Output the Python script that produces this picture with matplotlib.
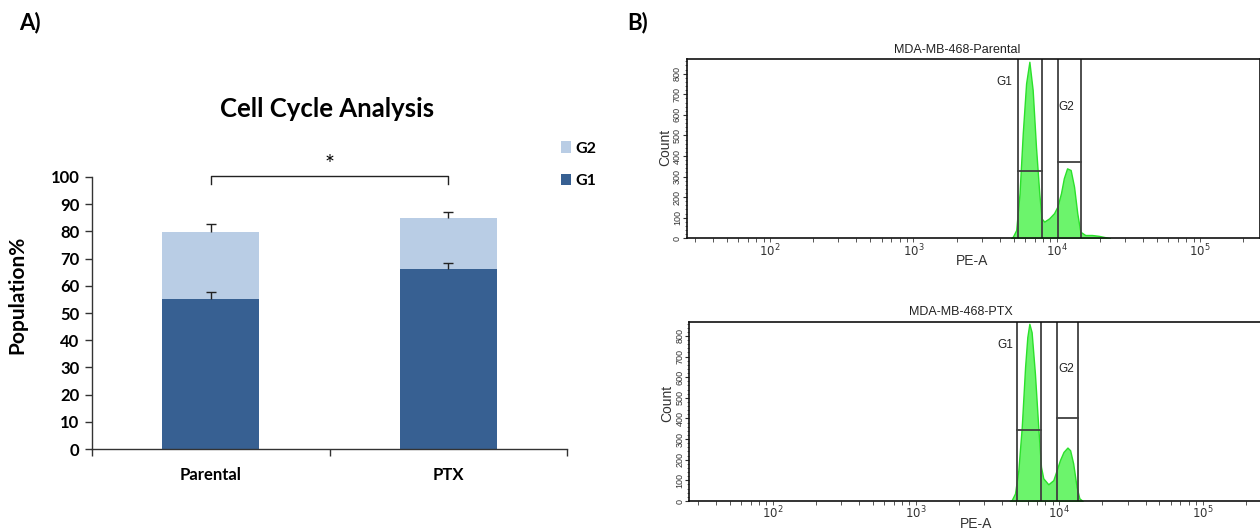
import numpy as np
import matplotlib
matplotlib.use('Agg')
import matplotlib.pyplot as plt
from matplotlib.ticker import MultipleLocator, NullFormatter, LogLocator, LogFormatterMathtext

# ---------------- Panel A data ----------------
groups = ['Parental', 'PTX']
g1_vals = [55.3, 66.3]
g2_vals = [24.5, 18.5]
g1_err = [2.4, 1.9]
total_err = [3.1, 2.4]
yticks_a = list(range(0, 101, 10))

# ---------------- Panel B data ----------------
parental_pe = [4790, 4940, 5210, 5500, 5790, 6110, 6440, 6790, 7160, 7550, 7830, 8170,
               8850, 9570, 10100, 10700, 11200, 11800, 12500, 13200, 13900, 14600,
               15800, 17600, 19600, 22300, 23500]
parental_count = [0, 8, 40, 219, 510, 753, 858, 721, 445, 219, 97, 81,
                  97, 122, 154, 219, 292, 340, 332, 251, 122, 32,
                  16, 16, 12, 4, 0]
ptx_pe = [4520, 4660, 4910, 5180, 5470, 5770, 5980, 6180, 6410, 6760, 7130, 7450,
          7730, 8380, 9080, 9590, 10100, 10700, 11400, 11900, 12500, 13200, 13800, 14550]
ptx_count = [0, 5, 37, 150, 359, 649, 794, 859, 818, 617, 359, 166,
             110, 81, 101, 150, 198, 238, 259, 246, 182, 69, 13, 0]

parental_g1_gate = [5350, 7850]
parental_g1_level = 327
parental_g2_gate = [10160, 14790]
parental_g2_level = 372
ptx_g1_gate = [5090, 7450]
ptx_g1_level = 343
ptx_g2_gate = [9640, 13580]
ptx_g2_level = 404

W, H = 1260, 531
fig = plt.figure(figsize=(W / 100, H / 100), dpi=100)

dark = '#376092'
light = '#B9CDE5'
fa = 'Lato'

# ---------------- Panel A ----------------
axA = fig.add_axes([92 / W, (H - 449) / H, 475 / W, 272 / H])
x = np.arange(len(groups))
b1 = axA.bar(x, g1_vals, width=0.41, color=dark, zorder=2)
b2 = axA.bar(x, g2_vals, bottom=g1_vals, width=0.41, color=light, zorder=2)
tot = [a + b for a, b in zip(g1_vals, g2_vals)]
for tops, errs in ((g1_vals, g1_err), (tot, total_err)):
    eb = axA.errorbar(x, tops, yerr=[np.zeros(len(x)), errs], fmt='none', ecolor='#222222',
                      elinewidth=1.0, capsize=3.5, capthick=1.0, zorder=3)
    eb[1][0].set_visible(False)  # hide lower caps
axA.set_xlim(-0.5, 1.5)
axA.set_ylim(0, 100)
for s in ['top', 'right']:
    axA.spines[s].set_visible(False)
for s in ['left', 'bottom']:
    axA.spines[s].set_color('#333333')
    axA.spines[s].set_linewidth(1.0)
axA.set_yticks(yticks_a)
axA.set_yticklabels([str(v) for v in yticks_a], fontfamily=fa, fontweight='bold', fontsize=12)
axA.tick_params(axis='y', direction='out', length=5, width=1, color='#333333', pad=4)
axA.set_xticks([-0.5, 0.5, 1.5])
axA.set_xticklabels(['', '', ''])
axA.tick_params(axis='x', which='major', direction='out', length=5, width=1, color='#333333')
axA.set_xticks(x, minor=True)
axA.set_xticklabels(groups, minor=True, fontfamily=fa, fontweight='bold', fontsize=12)
axA.tick_params(axis='x', which='minor', length=0, pad=13)

# significance bracket
axA.plot([0, 0, 1, 1], [97.5, 100.3, 100.3, 97.5], color='#222222', lw=1.0, clip_on=False)
axA.text(0.5, 104.5, '*', ha='center', va='center', fontsize=17, fontfamily=fa, clip_on=False)

fig.text(327 / W, 1 - 109 / H, 'Cell Cycle Analysis', ha='center', va='center',
         fontfamily=fa, fontweight='bold', fontsize=18.5)
fig.text(17 / W, 1 - 295 / H, 'Population%', rotation=90, ha='center', va='center',
         fontfamily=fa, fontweight='bold', fontsize=15)

leg = fig.legend([b2, b1], ['G2', 'G1'], loc='center left',
                 bbox_to_anchor=(560.7 / W, 1 - 164.7 / H), frameon=False,
                 prop={'family': fa, 'weight': 'bold', 'size': 11.5},
                 handlelength=0.62, handleheight=0.7, handletextpad=0.3,
                 labelspacing=1.15, borderpad=0, borderaxespad=0)

fig.text(30 / W, 1 - 23 / H, 'A)', ha='center', va='center', fontfamily=fa,
         fontweight='bold', fontsize=16)
fig.text(638 / W, 1 - 23 / H, 'B)', ha='center', va='center', fontfamily=fa,
         fontweight='bold', fontsize=16)

# ---------------- Panel B ----------------
fb = 'Liberation Sans'
plt.rcParams['mathtext.fontset'] = 'custom'
plt.rcParams['mathtext.rm'] = fb


def hist_panel(rect, pe, count, g1_gate, g1_level, g2_gate, g2_level, title, title_x,
               count_pos, pea_pos, g1_lab, g2_lab):
    ax = fig.add_axes(rect)
    ax.set_xscale('log')
    ax.set_xlim(10 ** 1.418, 10 ** 5.418)
    ax.set_ylim(0, 870)
    ax.fill_between(pe, 0, count, facecolor='#6CF46C', edgecolor='#2BE02B', lw=1.0, zorder=1)
    gate_kw = dict(color='#404040', lw=1.3, zorder=2)
    for g in (g1_gate, g2_gate):
        ax.axvline(g[0], **gate_kw)
        ax.axvline(g[1], **gate_kw)
    ax.plot(g1_gate, [g1_level, g1_level], **gate_kw)
    ax.plot(g2_gate, [g2_level, g2_level], **gate_kw)
    ax.text(g1_lab[0], g1_lab[1], 'G1', ha='center', va='center', fontsize=8.5,
            fontfamily=fb, color='#222222')
    ax.text(g2_lab[0], g2_lab[1], 'G2', ha='center', va='center', fontsize=8.5,
            fontfamily=fb, color='#222222')
    for s in ax.spines.values():
        s.set_color('#111111')
        s.set_linewidth(1.2)
    ax.yaxis.set_major_locator(MultipleLocator(100))
    ax.yaxis.set_minor_locator(MultipleLocator(20))
    ax.tick_params(axis='y', which='major', direction='out', length=3, width=0.8,
                   labelsize=6.5, pad=0.5, colors='#333333')
    ax.tick_params(axis='y', which='minor', direction='out', length=1.5, width=0.6,
                   color='#555555')
    for lab in ax.get_yticklabels():
        lab.set_rotation(90)
        lab.set_va('center')
        lab.set_fontfamily(fb)
    ax.xaxis.set_major_locator(LogLocator(base=10, numticks=10))
    ax.xaxis.set_major_formatter(LogFormatterMathtext())
    ax.xaxis.set_minor_locator(LogLocator(base=10, subs=np.arange(2, 10), numticks=20))
    ax.xaxis.set_minor_formatter(NullFormatter())
    ax.tick_params(axis='x', which='both', direction='out', length=3, width=0.7,
                   color='#555555', labelsize=8.5, pad=0, labelcolor='#333333')
    ax.text(title_x, 1 + 3 / 179, title, transform=ax.transAxes, ha='center',
            va='bottom', fontsize=9, fontfamily=fb, color='#222222')
    fig.text(count_pos[0] / W, 1 - count_pos[1] / H, 'Count', rotation=90, ha='center',
             va='center', fontsize=10, fontfamily=fb, color='#333333')
    fig.text(pea_pos[0] / W, 1 - pea_pos[1] / H, 'PE-A', ha='center', va='center',
             fontsize=10, fontfamily=fb, color='#333333')
    return ax


hist_panel([686.7 / W, (H - 238.3) / H, 573.3 / W, 179 / H], parental_pe, parental_count,
           parental_g1_gate, parental_g1_level, parental_g2_gate, parental_g2_level,
           'MDA-MB-468-Parental', 0.4715, (665, 147), (972, 261),
           (4340, 758), (11700, 640))
hist_panel([689.3 / W, (H - 501) / H, 573.2 / W, 179.5 / H], ptx_pe, ptx_count,
           ptx_g1_gate, ptx_g1_level, ptx_g2_gate, ptx_g2_level,
           'MDA-MB-468-PTX', 0.474, (667, 403), (976, 524),
           (4180, 758), (11100, 638))

fig.savefig('out.png', dpi=100)
